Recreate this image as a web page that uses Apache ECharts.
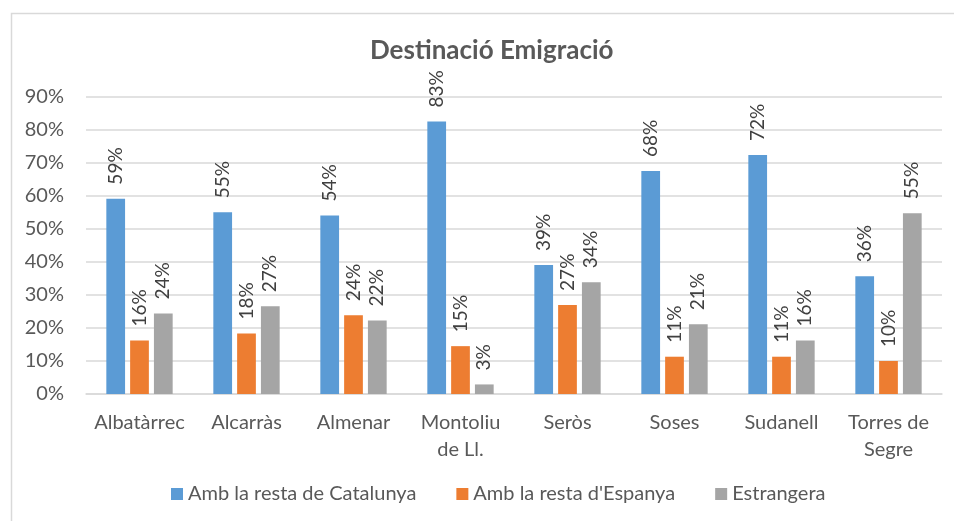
<!DOCTYPE html>
<html>
<head>
<meta charset="utf-8">
<script src="https://cdn.jsdelivr.net/npm/echarts@6/dist/echarts.min.js"></script>
<style>
html, body { margin: 0; padding: 0; background: #fff; }
#chart { width: 954px; height: 521px; }
</style>
</head>
<body>
<div id="chart"></div>
<script>
var categories = ['Albatàrrec', 'Alcarràs', 'Almenar', 'Montoliu\nde Ll.', 'Seròs', 'Soses', 'Sudanell', 'Torres de\nSegre'];
var seriesNames = ['Amb la resta de Catalunya', "Amb la resta d'Espanya", 'Estrangera'];
var catalunya = [59.2, 55.1, 54.1, 82.6, 39.1, 67.6, 72.4, 35.7];
var espanya = [16.2, 18.3, 23.9, 14.5, 27.0, 11.3, 11.3, 10.0];
var estrangera = [24.4, 26.6, 22.3, 2.9, 33.9, 21.1, 16.2, 54.8];
var yTicks = [0, 10, 20, 30, 40, 50, 60, 70, 80, 90];

var font = 'Lato, "Open Sans", sans-serif';
var colors = ['#5b9bd5', '#ed7d31', '#a5a5a5'];

var chart = echarts.init(document.getElementById('chart'));

function makeSeries(name, data) {
    return {
        name: name,
        type: 'bar',
        data: data,
        barGap: '27%',
        barCategoryGap: '38%',
        label: {
            show: true,
            position: 'top',
            rotate: 90,
            align: 'left',
            verticalAlign: 'middle',
            distance: 14,
            color: '#404040',
            fontFamily: font,
            fontSize: 19,
            formatter: function (p) { return Math.round(p.value) + '%'; }
        }
    };
}

var option = {
    color: colors,
    animation: false,
    title: {
        text: 'Destinació Emigració',
        left: 365,
        top: 33,
        textStyle: { color: '#595959', fontFamily: font, fontSize: 26, fontWeight: 'bold' }
    },
    graphic: [{
        type: 'rect',
        shape: { x: 11.5, y: 13.5, width: 960, height: 520 },
        style: { fill: 'none', stroke: '#d9d9d9', lineWidth: 1.5 },
        silent: true
    }],
    legend: {
        bottom: 12,
        left: 166,
        itemWidth: 12,
        itemHeight: 12,
        itemGap: 40,
        icon: 'rect',
        textStyle: { color: '#595959', fontFamily: font, fontSize: 20 },
        data: seriesNames
    },
    grid: { left: 86, right: 12, top: 97, bottom: 127 },
    xAxis: {
        type: 'category',
        data: categories,
        axisLine: { lineStyle: { color: '#d9d9d9', width: 1.5 } },
        axisTick: { show: false },
        axisLabel: {
            color: '#595959',
            fontFamily: font,
            fontSize: 20,
            margin: 15,
            lineHeight: 27,
            interval: 0
        }
    },
    yAxis: {
        type: 'value',
        min: yTicks[0],
        max: yTicks[yTicks.length - 1],
        interval: 10,
        axisLine: { show: false },
        axisTick: { show: false },
        splitLine: { lineStyle: { color: '#d9d9d9', width: 1.5 } },
        axisLabel: {
            color: '#595959',
            fontFamily: font,
            fontSize: 20,
            margin: 22,
            formatter: '{value}%'
        }
    },
    series: [
        makeSeries(seriesNames[0], catalunya),
        makeSeries(seriesNames[1], espanya),
        makeSeries(seriesNames[2], estrangera)
    ]
};

chart.setOption(option);

window.onresize = function () {
    chart.resize();
};
</script>
</body>
</html>
